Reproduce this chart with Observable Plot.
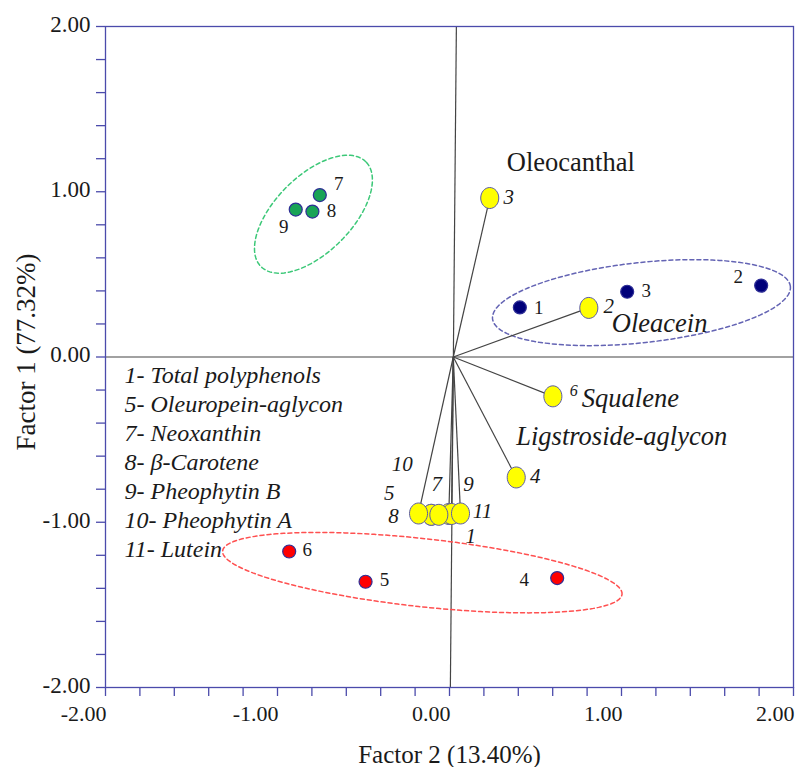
<!DOCTYPE html>
<html>
<head>
<meta charset="utf-8">
<script src="https://cdn.jsdelivr.net/npm/d3@7"></script>
<script src="https://cdn.jsdelivr.net/npm/@observablehq/plot@0.6"></script>
<style>
  html, body { margin: 0; padding: 0; background: #fff; }
  #chart svg { display: block; }
</style>
</head>
<body>
<div id="chart"></div>
<script>
// ---- Data ----
// Observations (scores)
const obsIds     = ["1", "2", "3", "4", "5", "6", "7", "8", "9"];
const obsFactor2 = [0.409, 1.812, 1.033, 0.626, -0.488, -0.932, -0.754, -0.797, -0.894];
const obsFactor1 = [0.300, 0.432, 0.395, -1.338, -1.360, -1.177, 0.980, 0.880, 0.892];
const obsGroup   = ["blue", "blue", "blue", "red", "red", "red", "green", "green", "green"];

// Variables (loadings)
const varIds     = ["1", "2", "3", "4", "5", "6", "7", "8", "9", "10", "11"];
const varNames   = ["Total polyphenols", "Oleacein", "Oleocanthal", "Ligstroside-aglycon",
                    "Oleuropein-aglycon", "Squalene", "Neoxanthin", "β-Carotene",
                    "Pheophytin B", "Pheophytin A", "Lutein"];
const varFactor2 = [-0.004, 0.810, 0.234, 0.388, -0.106, 0.601, -0.062, -0.180, 0.012, -0.106, 0.064];
const varFactor1 = [-0.950, 0.297, 0.962, -0.729, -0.955, -0.238, -0.955, -0.947, -0.950, -0.955, -0.947];
const legendVarIds = ["1", "5", "7", "8", "9", "10", "11"];
const varsWithVisibleVector = ["1", "2", "3", "4", "6", "8", "9", "11"];

// Group ellipses (center, semi-axes, rotation in degrees)
const ellipseGroup = ["green", "blue", "red"];
const ellipseCx    = [-0.791, 1.116, -0.158];
const ellipseCy    = [0.864, 0.329, -1.305];
const ellipseA     = [0.431, 0.871, 1.168];
const ellipseB     = [0.222, 0.233, 0.198];
const ellipseAngle = [45, 6.2, -6.2];

// Axis ticks
const minorTicks = d3.range(-10, 11).map(i => i / 5);
const majorTicks = [-2, -1, 0, 1, 2];
const xTitle = "Factor 2 (13.40%)";
const yTitle = "Factor 1 (77.32%)";

// ---- Styling ----
const font = "'Liberation Serif', 'Times New Roman', serif";
const axisColor = "#4b4bab";
const groupFill   = {blue: "#00007a", red: "#ff0000", green: "#19a356"};
const ellipseStroke = {blue: "#6464b4", red: "#ff5050", green: "#3cc878"};
const biplotOrigin = {x: 0.022, y: 0};
const aspect = 172 / 165.2;

const obsLabelOffset = {"1": [19, 0], "2": [-23, -9], "3": [19, -1], "4": [-33, 2], "5": [19, -2],
                        "6": [18, -2], "7": [19, -11], "8": [19, -1], "9": [-12, 17]};
const varLabelOffset = {"1": [22, 22], "2": [20, -2], "3": [19, -1], "4": [19, -1], "5": [-42, -22],
                        "6": [21, -5], "7": [-2, -31], "8": [-25, 3], "9": [17, -30], "10": [-29, -51], "11": [22, -2]};
const nameOffset = {"2": [23, 24, "italic"], "3": [17, -27, "normal"], "4": [0, -32, "italic"], "6": [29, 11, "italic"]};

// ---- Tables ----
const obs = obsIds.map((id, i) => ({id, x: obsFactor2[i], y: obsFactor1[i], g: obsGroup[i]}));
const vars = varIds.map((id, i) => ({id, name: varNames[i], x: varFactor2[i], y: varFactor1[i]}));
const drawOrder = ["10", "5", "1", "9", "8", "11", "7", "2", "3", "4", "6"];
const varsDraw = drawOrder.map(id => vars.find(v => v.id === id));

const ellipsePts = [];
ellipseGroup.forEach((g, i) => {
  const th = ellipseAngle[i] * Math.PI / 180;
  for (let k = 0; k <= 120; k++) {
    const t = 2 * Math.PI * k / 120;
    const ex = ellipseA[i] * Math.cos(t), ey = ellipseB[i] * Math.sin(t);
    ellipsePts.push({g,
      x: ellipseCx[i] + ex * Math.cos(th) - ey * Math.sin(th),
      y: ellipseCy[i] + (ex * Math.sin(th) + ey * Math.cos(th)) * aspect});
  }
});

// Ellipse-shaped symbol for loading markers
const ovalSymbol = {
  draw(ctx, size) {
    const r = Math.sqrt(size / Math.PI), rx = r * 0.86, ry = r, k = 0.5523;
    ctx.moveTo(rx, 0);
    ctx.bezierCurveTo(rx, ry * k, rx * k, ry, 0, ry);
    ctx.bezierCurveTo(-rx * k, ry, -rx, ry * k, -rx, 0);
    ctx.bezierCurveTo(-rx, -ry * k, -rx * k, -ry, 0, -ry);
    ctx.bezierCurveTo(rx * k, -ry, rx, -ry * k, rx, 0);
    ctx.closePath();
  }
};

const legendText = legendVarIds.map(id => `${id}- ${varNames[varIds.indexOf(id)]}`).join("\n");

const chart = Plot.plot({
  width: 796,
  height: 767,
  marginLeft: 105,
  marginRight: 3,
  marginTop: 26,
  marginBottom: 80,
  x: {domain: [-2, 2], axis: null},
  y: {domain: [-2, 2], axis: null},
  style: {fontFamily: font, background: "#fff", color: "#1a1a1a"},
  marks: [
    // reference lines through the origin
    Plot.ruleY([0], {stroke: "#444", strokeWidth: 1.2}),
    Plot.link([biplotOrigin], {x1: 0.04, y1: 2, x2: 0.005, y2: -2, stroke: "#444", strokeWidth: 1.2}),
    // group ellipses
    Plot.line(ellipsePts, {x: "x", y: "y", z: "g", stroke: d => ellipseStroke[d.g],
      strokeWidth: 1.5, strokeDasharray: "4,3"}),
    // loading vectors
    Plot.link(vars.filter(d => varsWithVisibleVector.includes(d.id)),
      {x1: biplotOrigin.x, y1: biplotOrigin.y, x2: "x", y2: "y", stroke: "#444", strokeWidth: 1.2}),
    // observation scores
    Plot.dot(obs, {x: "x", y: "y", r: 6.5, fill: d => groupFill[d.g], stroke: "#2e2e96", strokeWidth: 1.2}),
    // loading markers
    Plot.dot(varsDraw, {x: "x", y: "y", r: 10.5, symbol: ovalSymbol, fill: "#ffff00", stroke: "#5a5aa8", strokeWidth: 1}),
    // observation labels
    obs.map(d => Plot.text([d], {x: "x", y: "y", text: "id", dx: obsLabelOffset[d.id][0], dy: obsLabelOffset[d.id][1],
      fontSize: 19, fill: "#1a1a1a"})),
    // loading labels
    vars.map(d => Plot.text([d], {x: "x", y: "y", text: "id", dx: varLabelOffset[d.id][0], dy: varLabelOffset[d.id][1],
      fontSize: d.id === "6" ? 16 : 21, fontStyle: "italic", fill: "#1a1a1a"})),
    // compound names next to vectors
    vars.filter(d => nameOffset[d.id]).map(d => Plot.text([d], {x: "x", y: "y", text: "name",
      dx: nameOffset[d.id][0], dy: nameOffset[d.id][1], textAnchor: "start", lineAnchor: "bottom",
      fontSize: 26.5, fontStyle: nameOffset[d.id][2], fill: "#1a1a1a"})),
    // legend of compounds
    Plot.text([legendText], {frameAnchor: "top-left", dx: 19, dy: 336, textAnchor: "start", lineAnchor: "top",
      lineHeight: 1.21, fontSize: 24, fontStyle: "italic", fill: "#1a1a1a"}),
    // frame and axes
    Plot.frame({stroke: axisColor, strokeWidth: 1.3}),
    Plot.axisX({ticks: minorTicks, anchor: "bottom", tickSize: 9, tickFormat: () => "", stroke: axisColor,
      strokeWidth: 1.3, label: null}),
    Plot.axisY({ticks: minorTicks, anchor: "left", tickSize: 9, tickFormat: () => "", stroke: axisColor,
      strokeWidth: 1.3, label: null}),
    Plot.text(majorTicks, {x: d => d, frameAnchor: "bottom", dx: 1, dy: 33, textAnchor: "end", lineAnchor: "bottom",
      text: d => d.toFixed(2), fontSize: 22, fill: "#1a1a1a"}),
    Plot.text(majorTicks, {y: d => d, frameAnchor: "left", dx: -15, dy: -2, textAnchor: "end",
      text: d => d.toFixed(2), fontSize: 23, fill: "#1a1a1a"}),
    // axis titles
    Plot.text([xTitle], {frameAnchor: "bottom", dy: 75, textAnchor: "middle", lineAnchor: "bottom", fontSize: 25, fill: "#1a1a1a"}),
    Plot.text([yTitle], {frameAnchor: "left", dx: -79, dy: -5, rotate: -90, textAnchor: "middle", fontSize: 27, fill: "#1a1a1a"})
  ]
});

document.getElementById("chart").appendChild(chart);
</script>
</body>
</html>
